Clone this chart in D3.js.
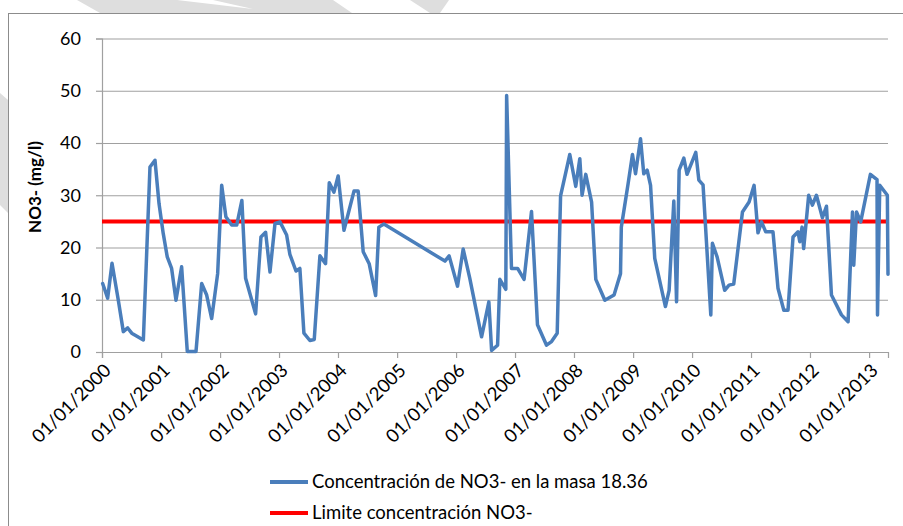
<!DOCTYPE html>
<html>
<head>
<meta charset="utf-8">
<script src="https://cdn.jsdelivr.net/npm/d3@7/dist/d3.min.js"></script>
<style>
  html, body { margin: 0; padding: 0; background: #ffffff; }
  svg { display: block; }
  text { font-family: Lato, "Open Sans", sans-serif; fill: #000; }
</style>
</head>
<body>
<svg id="chart" width="903" height="526"></svg>
<script>
// ---- DATA ----
const dates = [
  "2000-01-05","2000-02-05","2000-03-03","2000-04-11","2000-05-12","2000-06-08","2000-07-03","2000-09-13",
  "2000-10-24","2000-11-24","2000-12-19","2001-01-14","2001-02-08","2001-03-07","2001-04-03","2001-05-08",
  "2001-06-12","2001-08-05","2001-09-09","2001-10-10","2001-11-10","2001-12-17","2002-01-11","2002-02-06",
  "2002-03-14","2002-04-14","2002-05-16","2002-06-08","2002-08-09","2002-09-11","2002-10-10","2002-11-06",
  "2002-12-07","2003-01-07","2003-02-17","2003-03-09","2003-04-16","2003-05-10","2003-06-04","2003-07-11",
  "2003-08-07","2003-09-11","2003-10-16","2003-11-08","2003-12-07","2004-01-02","2004-02-07","2004-04-09",
  "2004-05-05","2004-06-05","2004-07-12","2004-08-21","2004-09-10","2004-10-11","2005-10-24","2005-11-19",
  "2006-01-10","2006-02-14","2006-03-27","2006-06-08","2006-07-23","2006-08-09","2006-09-15","2006-09-29",
  "2006-11-05","2006-11-10","2006-12-10","2007-01-17","2007-02-26","2007-04-13","2007-05-20","2007-07-15",
  "2007-08-15","2007-09-19","2007-10-10","2007-12-06","2008-01-12","2008-02-06","2008-02-20","2008-03-14",
  "2008-04-19","2008-05-15","2008-07-10","2008-09-05","2008-10-15","2008-10-20","2008-12-01","2008-12-28",
  "2009-01-16","2009-02-16","2009-03-08","2009-03-29","2009-04-19","2009-05-15","2009-07-20","2009-08-12",
  "2009-09-10","2009-09-27","2009-10-13","2009-11-11","2009-12-01","2010-01-24","2010-02-12","2010-03-10",
  "2010-04-27","2010-05-07","2010-06-05","2010-07-22","2010-08-18","2010-09-16","2010-11-09","2010-12-20",
  "2011-01-20","2011-02-13","2011-03-07","2011-04-02","2011-05-17","2011-06-17","2011-07-23","2011-08-18",
  "2011-09-18","2011-10-19","2011-10-30","2011-11-13","2011-11-23","2011-12-24","2012-01-16","2012-02-10",
  "2012-03-18","2012-04-12","2012-05-13","2012-07-14","2012-08-24","2012-09-20","2012-09-28","2012-10-15",
  "2012-11-10","2013-01-09","2013-02-19","2013-02-22","2013-03-08","2013-03-28","2013-04-24","2013-04-28"
];
const no3Values = [
  13.1,10.3,17.0,9.9,3.9,4.6,3.6,2.3,
  35.4,36.7,28.4,22.7,18.2,16.0,9.9,16.3,
  0.1,0.1,13.1,10.9,6.4,15.0,31.9,25.9,
  24.3,24.3,29.0,14.1,7.3,22.0,22.9,15.3,
  24.6,24.9,22.4,18.7,15.5,16.0,3.6,2.2,
  2.4,18.4,16.9,32.4,30.6,33.7,23.3,30.8,
  30.8,19.2,16.9,10.8,23.9,24.5,17.4,18.4,
  12.6,19.7,14.1,2.9,9.6,0.3,1.3,13.9,
  12.0,49.1,16.0,16.0,13.9,26.9,5.2,1.3,
  2.0,3.6,29.9,37.8,31.7,37.0,30.0,34.0,
  28.7,13.9,9.9,10.9,15.0,23.9,32.2,37.8,
  34.1,40.8,34.1,34.8,31.9,17.9,8.7,11.8,
  28.9,9.6,34.8,37.1,34.0,38.2,32.9,32.0,
  7.1,20.8,18.2,11.8,12.8,13.0,26.8,28.7,
  31.9,22.8,24.9,23.0,23.0,12.2,8.0,8.0,
  22.0,23.0,21.1,23.9,19.8,30.0,28.1,30.0,
  25.7,27.9,10.9,7.1,5.8,26.8,16.6,26.8,
  24.9,34.0,33.0,7.1,31.9,31.1,30.0,14.9
];
const limitValue = 25;
const yTicks = [0, 10, 20, 30, 40, 50, 60];
const xTickYears = [2000,2001,2002,2003,2004,2005,2006,2007,2008,2009,2010,2011,2012,2013];
const seriesNames = ["Concentración de NO3- en la masa 18.36", "Limite concentración NO3-"];
const yTitle = "NO3- (mg/l)";
const seriesColors = ["#4a7ebb", "#ff0000"];

// ---- CHART ----
const svg = d3.select("#chart");
const parse = d3.timeParse("%Y-%m-%d");
const data = dates.map((d, i) => ({ date: parse(d), value: no3Values[i] }));

const plot = { left: 102, right: 888, top: 38.5, bottom: 352 };

// watermark shapes in the margin (outside the chart frame)
const wm = svg.append("g").attr("fill", "#dedede");
wm.append("path").attr("d", "M77,0 L333,0 L352,13 L100,13 Z");
wm.append("path").attr("d", "M410,0 L449,0 L440,13 L430,13 Z");
wm.append("path").attr("d", "M0,93 L8,100 L8,213 L0,205 Z");
svg.append("path").attr("d", "M177,0 L213,0 L253,9 Z").attr("fill", "#ffffff");

// chart frame
svg.append("rect")
  .attr("x", 8.5).attr("y", 13.5).attr("width", 1000).attr("height", 1000)
  .attr("fill", "#ffffff").attr("stroke", "#8c8c8c").attr("stroke-width", 1);

const x = d3.scaleTime()
  .domain([new Date(2000, 0, 1), data[data.length - 1].date])
  .range([plot.left, plot.right]);
const y = d3.scaleLinear().domain([0, 60]).range([plot.bottom, plot.top]);

// gridlines
const grid = svg.append("g")
  .attr("transform", `translate(${plot.left},0)`)
  .call(d3.axisLeft(y).tickValues(yTicks).tickSize(-(plot.right - plot.left)).tickFormat(""));
grid.select(".domain").remove();
grid.selectAll("line").attr("stroke", "#a0a0a0").attr("stroke-width", 1.2);

// y axis
const yAxis = svg.append("g")
  .attr("transform", `translate(${plot.left},0)`)
  .call(d3.axisLeft(y).tickValues(yTicks).tickSize(6).tickPadding(15).tickFormat(d3.format("d")));
yAxis.select(".domain").attr("stroke", "#a0a0a0").attr("stroke-width", 1.2);
yAxis.selectAll("line").attr("stroke", "#a0a0a0").attr("stroke-width", 1.2);
yAxis.selectAll("text").attr("font-size", 18).attr("font-family", "Lato, sans-serif");

// x axis
const xTicks = xTickYears.map(yr => new Date(yr, 0, 1));
const xAxis = svg.append("g")
  .attr("transform", `translate(0,${plot.bottom})`)
  .call(d3.axisBottom(x).tickValues(xTicks).tickSize(6).tickFormat(d3.timeFormat("%d/%m/%Y")));
xAxis.select(".domain").attr("stroke", "#a0a0a0").attr("stroke-width", 1.2);
xAxis.selectAll("line").attr("stroke", "#a0a0a0").attr("stroke-width", 1.2);
xAxis.selectAll("text")
  .attr("font-size", 18.5).attr("font-family", "Lato, sans-serif")
  .attr("text-anchor", "end")
  .attr("dy", "0.35em")
  .attr("transform", "translate(5,15) rotate(-45)")
  .attr("x", 0).attr("y", 0);

// y title
svg.append("text")
  .attr("transform", "translate(41,187) rotate(-90)")
  .attr("text-anchor", "middle")
  .attr("font-size", 17).attr("font-weight", "bold")
  .text(yTitle);

// limit line
svg.append("line")
  .attr("x1", plot.left).attr("x2", plot.right)
  .attr("y1", y(limitValue)).attr("y2", y(limitValue))
  .attr("stroke", seriesColors[1]).attr("stroke-width", 4);

// series line
svg.append("path")
  .datum(data)
  .attr("fill", "none")
  .attr("stroke", seriesColors[0])
  .attr("stroke-width", 3.5)
  .attr("stroke-linejoin", "round")
  .attr("stroke-linecap", "round")
  .attr("d", d3.line().x(d => x(d.date)).y(d => y(d.value)));

// legend
const legend = svg.append("g");
seriesNames.forEach((name, i) => {
  const ly = 482 + i * 31;
  legend.append("line")
    .attr("x1", 270).attr("x2", 308).attr("y1", ly).attr("y2", ly)
    .attr("stroke", seriesColors[i]).attr("stroke-width", 4);
  legend.append("text")
    .attr("x", 312).attr("y", ly).attr("dy", "0.35em")
    .attr("font-size", 18.5)
    .text(name);
});
</script>
</body>
</html>
